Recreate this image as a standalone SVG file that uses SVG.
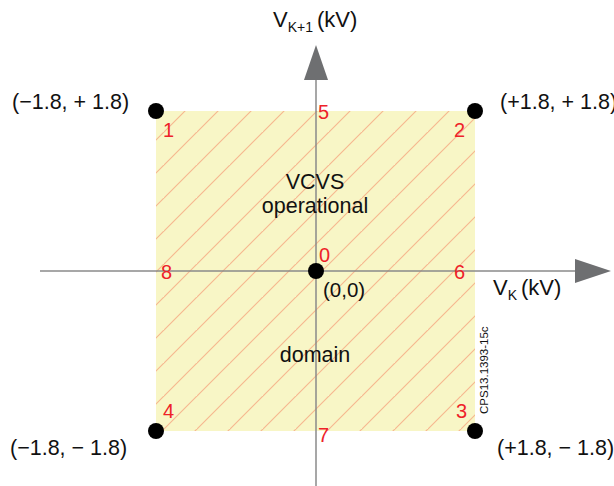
<svg xmlns="http://www.w3.org/2000/svg" width="614" height="486" viewBox="0 0 614 486">
<style>
.t{font-family:"Liberation Sans",Arial,sans-serif;fill:#111}
.n{font-family:"Liberation Sans",Arial,sans-serif;fill:#ee2229;font-size:20px}
.ax{stroke:#8a8a8a;stroke-width:1.5;fill:none}
.dot{fill:#000}
</style>
<defs>
<pattern id="hatch" patternUnits="userSpaceOnUse" x="32" y="0" width="33" height="33">
<path d="M-2,35 L35,-2 M-35,35 L2,-2 M31,68 L68,31" stroke="#f6b890" stroke-width="1.2"/>
</pattern>
</defs>
<g id="domain">
<rect x="156" y="111" width="319" height="320" fill="#f8f6c6"/>
<rect x="156" y="111" width="319" height="320" fill="url(#hatch)"/>
</g>
<g id="connectors">
<line class="ax" x1="316" y1="78" x2="316" y2="486"/>
<line class="ax" x1="40" y1="271" x2="578" y2="271"/>
<polygon points="316,45 304,80 328,80" fill="#6e6f71"/>
<polygon points="611,271 575,259 575,283" fill="#6e6f71"/>
</g>
<g id="axis-y-label"><text class="t" x="273" y="27" font-size="22">V<tspan font-size="14" dy="5">K+1</tspan><tspan dy="-5" dx="4">(kV)</tspan></text></g>
<g id="axis-x-label"><text class="t" x="493" y="295" font-size="22">V<tspan font-size="14" dy="5">K</tspan><tspan dy="-5" dx="4">(kV)</tspan></text></g>
<g id="p1"><circle class="dot" cx="156" cy="111" r="8"/><text class="t" x="12" y="109" font-size="21.5">(−1.8, + 1.8)</text><text class="n" x="163" y="137">1</text></g>
<g id="p2"><circle class="dot" cx="475" cy="111" r="8"/><text class="t" x="500" y="109" font-size="21.5">(+1.8, + 1.8)</text><text class="n" x="454" y="137">2</text></g>
<g id="p3"><circle class="dot" cx="475" cy="431" r="8"/><text class="t" x="497" y="455" font-size="21.5">(+1.8, − 1.8)</text><text class="n" x="456" y="418">3</text></g>
<g id="p4"><circle class="dot" cx="156" cy="431" r="8"/><text class="t" x="10" y="455" font-size="21.5">(−1.8, − 1.8)</text><text class="n" x="163" y="418">4</text></g>
<g id="p0"><circle class="dot" cx="316" cy="271" r="8"/><text class="t" x="323" y="297" font-size="20.5">(0,0)</text><text class="n" x="319" y="262">0</text></g>
<g id="p5"><text class="n" x="318" y="119">5</text></g>
<g id="p6"><text class="n" x="454" y="279">6</text></g>
<g id="p7"><text class="n" x="318" y="442">7</text></g>
<g id="p8"><text class="n" x="161" y="279">8</text></g>
<g id="label-vcvs"><text class="t" x="315" y="189" font-size="21.5" text-anchor="middle">VCVS</text><text class="t" x="315" y="213" font-size="21.5" text-anchor="middle">operational</text></g>
<g id="label-domain"><text class="t" x="315" y="362" font-size="21.5" text-anchor="middle">domain</text></g>
<g id="ref"><text class="t" transform="translate(488,414) rotate(-90)" font-size="11.5">CPS13.1393-15c</text></g>
</svg>
